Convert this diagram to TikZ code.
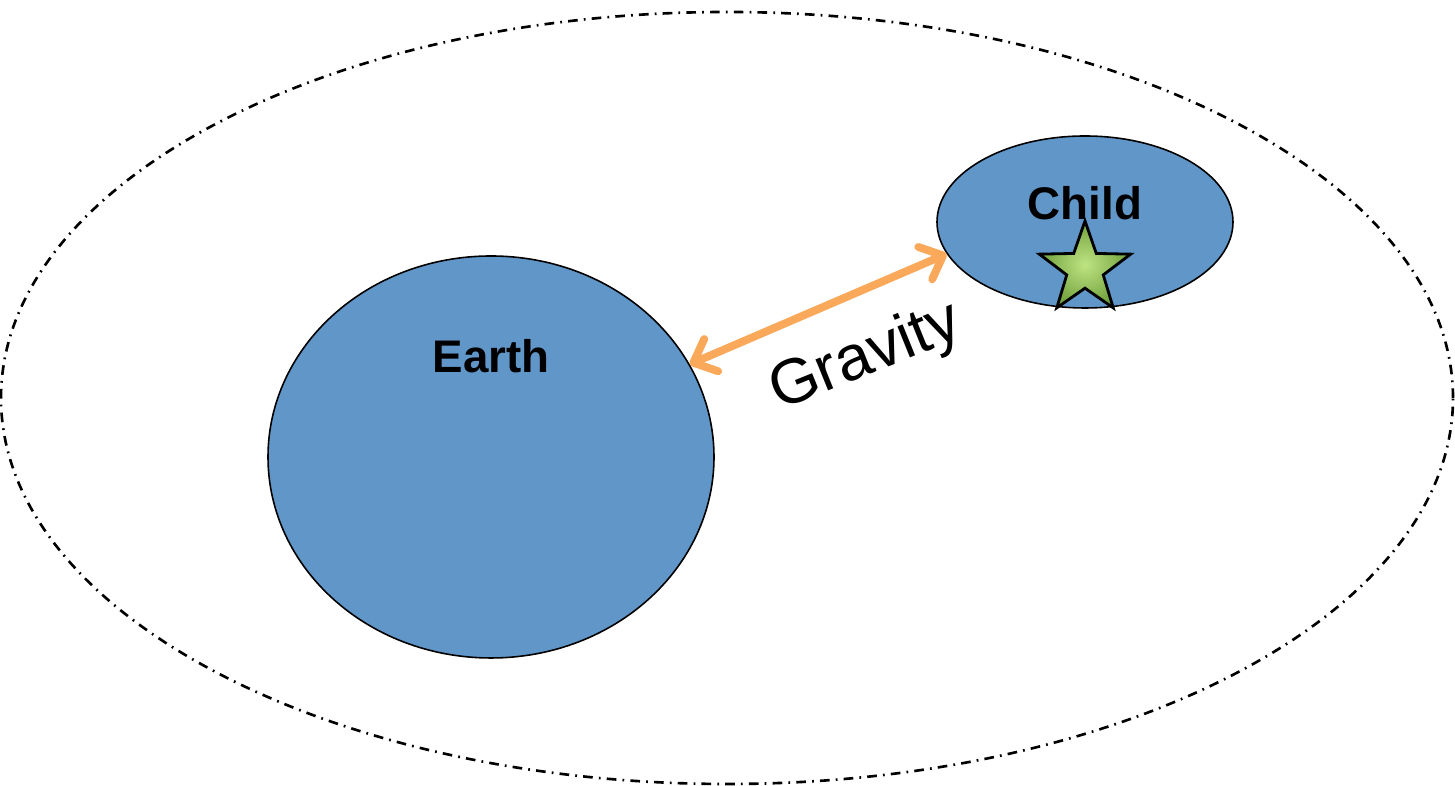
\documentclass[tikz,border=0pt]{standalone}
\usepackage{fontspec}
\setmainfont{Liberation Sans}
\usepackage{xcolor}
\usetikzlibrary{arrows.meta, positioning, shapes.geometric}

\definecolor{bodyblue}{RGB}{97,150,201}
\definecolor{gravorange}{RGB}{250,168,90}
\definecolor{starlight}{RGB}{190,228,130}
\definecolor{stardark}{RGB}{112,160,60}

\begin{document}
\begin{tikzpicture}[
    x=0.02cm, y=0.02cm,
    body/.style={ellipse, draw=black, line width=0.9pt, fill=bodyblue, inner sep=0pt},
    lbl/.style={font=\fontsize{26}{30}\selectfont\bfseries, inner sep=0pt},
    pull/.style={{Straight Barb[length=11pt,width=20pt,round]}-{Straight Barb[length=11pt,width=20pt,round]},
                 line width=4.5pt, line cap=round, gravorange},
]
\useasboundingbox (0,0) rectangle (1455,786);

% field of gravity
\node[ellipse, draw=black, line width=1.5pt, dash pattern=on 5.5pt off 3.5pt on 1pt off 3.5pt,
      minimum width=1452*0.02cm, minimum height=772*0.02cm, inner sep=0pt] (field) at (727,388) {};

\node[body, minimum width=446*0.02cm, minimum height=402*0.02cm] (earth) at (491,329) {};
\node[body, minimum width=296*0.02cm, minimum height=172*0.02cm] (child) at (1085,564) {};

\node[lbl] (earthlbl) at (491,430) {Earth};
\node[lbl] (childlbl) at (1085,583) {Child};

\node[star, star points=5, star point ratio=2.5, minimum size=96*0.02cm, inner sep=0pt,
      draw=black, line width=1.6pt, inner color=starlight, outer color=stardark] (pin) at (1085,517) {};

\draw[pull] (earth.25) -- (child.193);
\node[rotate=22, font=\fontsize{36}{42}\selectfont, inner sep=0pt] (gravlbl) at (866,428) {Gravity};

\end{tikzpicture}
\end{document}
